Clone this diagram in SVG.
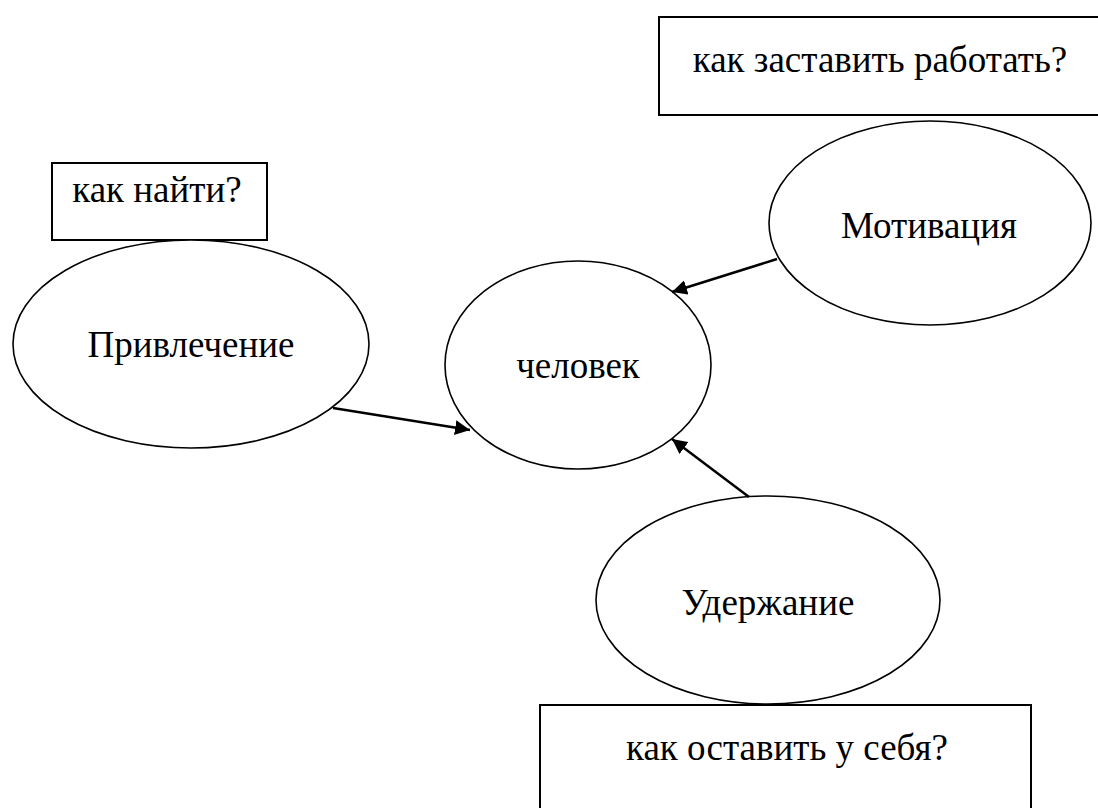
<svg xmlns="http://www.w3.org/2000/svg" width="1098" height="808" viewBox="0 0 1098 808">
<defs>
<style>
.box{fill:#fff;stroke:#000;stroke-width:2}
.ell{fill:#fff;stroke:#000;stroke-width:1.6}
.lbl{font-family:"Liberation Serif","Times New Roman",serif;font-size:37px;fill:#000;text-anchor:middle}
.conn{stroke:#000;stroke-width:2.5;fill:none;marker-end:url(#ah)}
</style>
<marker id="ah" viewBox="0 0 10 10" refX="10" refY="5" markerWidth="6" markerHeight="6" markerUnits="strokeWidth" orient="auto">
<path d="M0,0 L10,5 L0,10 z" fill="#000"/>
</marker>
</defs>
<rect width="1098" height="808" fill="#fff"/>
<g id="box-rabota"><rect class="box" x="659" y="17" width="450" height="98"/><text class="lbl" x="880" y="72">как заставить работать?</text></g>
<g id="box-nayti"><rect class="box" x="52" y="163" width="215" height="77"/><text class="lbl" x="157" y="202">как найти?</text></g>
<g id="node-privlechenie"><ellipse class="ell" cx="191" cy="344" rx="178" ry="104"/><text class="lbl" x="191" y="357">Привлечение</text></g>
<g id="node-chelovek"><ellipse class="ell" cx="578" cy="365" rx="133" ry="104"/><text class="lbl" x="578" y="378">человек</text></g>
<g id="node-motivaciya"><ellipse class="ell" cx="930" cy="223" rx="161" ry="102"/><text class="lbl" x="929" y="238">Мотивация</text></g>
<g id="node-uderzhanie"><ellipse class="ell" cx="768" cy="600" rx="172" ry="104"/><text class="lbl" x="768" y="615">Удержание</text></g>
<g id="box-ostavit"><rect class="box" x="540" y="705" width="491" height="120"/><text class="lbl" x="787" y="760">как оставить у себя?</text></g>
<g id="connectors">
<line class="conn" x1="333" y1="408" x2="470" y2="430"/>
<line class="conn" x1="777" y1="259" x2="672" y2="292"/>
<line class="conn" x1="749" y1="497" x2="672" y2="439"/>
</g>
</svg>
